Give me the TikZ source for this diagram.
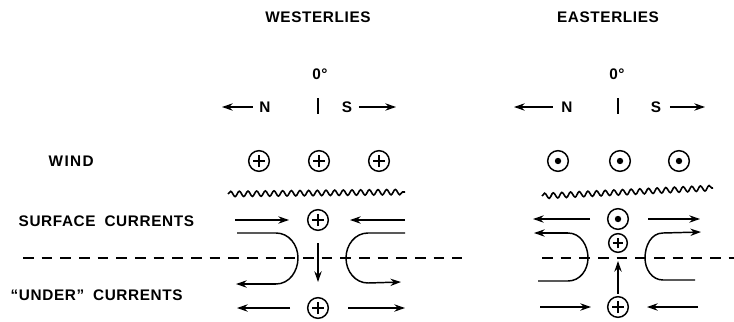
\documentclass[tikz,border=0pt]{standalone}
\usepackage{fontspec}
\setmainfont{Liberation Sans}[LetterSpace=4]
\usetikzlibrary{arrows.meta,decorations.pathmorphing}
\begin{document}
\begin{tikzpicture}[x=0.75pt,y=-0.75pt,
  lbl/.style={font=\fontsize{11.5}{13}\selectfont\bfseries},
  sym/.style={circle,draw,line width=1.1pt,minimum size=15.5pt,inner sep=0pt},
  arr/.style={line width=1.1pt,-{Stealth[length=8pt,width=5.5pt]}},
  plain/.style={line width=1.1pt},
  wave/.style={line width=1.2pt,decorate,decoration={snake,segment length=6.5pt,amplitude=2pt}},
  dashln/.style={line width=1.2pt,dash pattern=on 8pt off 6pt}]
\useasboundingbox (0,0) rectangle (734,321);
% titles
\node[lbl] (tw) at (318,17) {WESTERLIES};
\node[lbl] (te) at (608,17) {EASTERLIES};
\node[lbl] (zw) at (320,74) {0°};
\node[lbl] (ze) at (617,74) {0°};
% compass rows
\node[lbl] (nw) at (265,107) {N};
\node[lbl] (sw) at (347,107) {S};
\node[lbl] (ne) at (567,107) {N};
\node[lbl] (se) at (656,107) {S};
\coordinate (nwt) at (222,107);
\coordinate (swt) at (396,107);
\coordinate (net) at (514,107);
\coordinate (set) at (705,107);
\draw[arr] (nw.west) ++(-2,0) coordinate (nws) -- (nwt);
\draw[arr] (sw.east) ++(2,0) coordinate (sws) -- (swt);
\draw[arr] (ne.west) ++(-4,0) coordinate (nes) -- (net);
\draw[arr] (se.east) ++(4,0) coordinate (ses) -- (set);
\coordinate (kw1) at (318,98); \coordinate (kw2) at (318,114);
\coordinate (ke1) at (618,98); \coordinate (ke2) at (618,114);
\draw[plain] (kw1) -- (kw2);
\draw[plain] (ke1) -- (ke2);
% row labels
\node[lbl,anchor=west] (wind) at (44,161) {W\hspace{1pt}I\hspace{1pt}N\hspace{1pt}D};
\node[lbl,anchor=west] (surf) at (14,221) {SURFACE\hspace{3pt} CURRENTS};
\node[lbl,anchor=west] (under) at (6,295) {``UNDER''\hspace{3pt} CURRENTS};
% wind symbols
\foreach \n/\x in {w1/259,w2/319,w3/379}{
  \node[sym] (\n) at (\x,161) {};
  \draw[plain] ([xshift=-4.5pt]\n.center) -- ([xshift=4.5pt]\n.center);
  \draw[plain] ([yshift=-4.5pt]\n.center) -- ([yshift=4.5pt]\n.center);}
\foreach \n/\x in {e1/558,e2/620,e3/679}{
  \node[sym] (\n) at (\x,161) {};
  \fill (\n.center) circle (2.4pt);}
% waves
\coordinate (wva) at (228,194); \coordinate (wvb) at (405,192);
\coordinate (eva) at (542,196); \coordinate (evb) at (713,188);
\draw[wave] (wva) -- (wvb);
\draw[wave] (eva) -- (evb);
% dashed
\coordinate (dwa) at (23,258); \coordinate (dwb) at (462,258);
\coordinate (dea) at (542,258); \coordinate (deb) at (734,258);
\draw[dashln] (dwa) -- (dwb);
\draw[dashln] (dea) -- (deb);
% ---- West
\node[sym] (ws) at (318,220) {};
\draw[plain] ([xshift=-4.5pt]ws.center) -- ([xshift=4.5pt]ws.center);
\draw[plain] ([yshift=-4.5pt]ws.center) -- ([yshift=4.5pt]ws.center);
\node[sym] (wu) at (318,308) {};
\draw[plain] ([xshift=-4.5pt]wu.center) -- ([xshift=4.5pt]wu.center);
\draw[plain] ([yshift=-4.5pt]wu.center) -- ([yshift=4.5pt]wu.center);
\coordinate (a1) at (235,220); \coordinate (a2) at (289,220);
\coordinate (a3) at (405,220); \coordinate (a4) at (350,220);
\draw[arr] (a1) -- (a2);
\draw[arr] (a3) -- (a4);
\coordinate (b1) at (290,308); \coordinate (b2) at (237,308);
\coordinate (b3) at (348,308); \coordinate (b4) at (405,308);
\draw[arr] (b1) -- (b2);
\draw[arr] (b3) -- (b4);
\coordinate (dd1) at (318,243); \coordinate (dd2) at (318,282);
\draw[arr] (dd1) -- (dd2);
% west loops
\coordinate (l1) at (237,233); \coordinate (l3) at (276,284); \coordinate (l2) at (236,284);
\draw[plain] (l1) -- (276,233) to[out=0,in=90] (298,258) to[out=-90,in=0] (l3);
\draw[arr] (l3) -- (l2);
\coordinate (r1) at (405,233); \coordinate (r3) at (368,283); \coordinate (r2) at (401,282);
\draw[plain] (r1) -- (368,233) to[out=180,in=90] (346,258) to[out=-90,in=180] (r3);
\draw[arr] (r3) -- (r2);
% ---- East
\node[sym] (es) at (618,219) {};
\fill (es.center) circle (2.4pt);
\node[sym,minimum size=14pt] (em) at (618,243) {};
\draw[plain] ([xshift=-4pt]em.center) -- ([xshift=4pt]em.center);
\draw[plain] ([yshift=-4pt]em.center) -- ([yshift=4pt]em.center);
\node[sym] (eu) at (618,307) {};
\draw[plain] ([xshift=-4.5pt]eu.center) -- ([xshift=4.5pt]eu.center);
\draw[plain] ([yshift=-4.5pt]eu.center) -- ([yshift=4.5pt]eu.center);
\coordinate (c1) at (590,219); \coordinate (c2) at (533,219);
\coordinate (c3) at (648,219); \coordinate (c4) at (700,219);
\draw[arr] (c1) -- (c2);
\draw[arr] (c3) -- (c4);
\coordinate (f1) at (540,307); \coordinate (f2) at (591,307);
\coordinate (f3) at (698,307); \coordinate (f4) at (647,307);
\draw[arr] (f1) -- (f2);
\draw[arr] (f3) -- (f4);
\draw[arr] (eu.north) ++(0,-2) coordinate (ua) -- (em.south |- 0,261) coordinate (ub);
% east loops
\coordinate (m1) at (538,281); \coordinate (m3) at (568,233); \coordinate (m2) at (534,233);
\draw[plain] (m1) -- (568,281) to[out=0,in=-90] (588,258) to[out=90,in=0] (m3);
\draw[arr] (m3) -- (m2);
\coordinate (n1) at (695,280); \coordinate (n3) at (663,233); \coordinate (n2) at (701,232);
\draw[plain] (n1) -- (663,280) to[out=180,in=-90] (645,258) to[out=90,in=180] (n3);
\draw[arr] (n3) -- (n2);
\end{tikzpicture}
\end{document}
